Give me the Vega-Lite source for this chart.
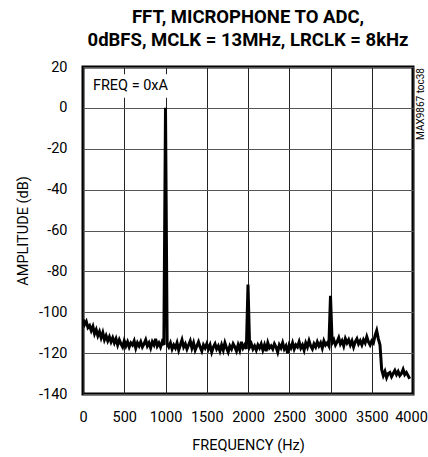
{
  "$schema": "https://vega.github.io/schema/vega-lite/v6.json",
  "width": 330,
  "height": 327,
  "autosize": {"type": "none"},
  "padding": {"left": 83, "top": 67, "right": 15, "bottom": 63},
  "background": "white",
  "title": {
    "text": ["FFT, MICROPHONE TO ADC,", "0dBFS, MCLK = 13MHz, LRCLK = 8kHz"],
    "font": "Roboto",
    "fontSize": 18.5,
    "fontWeight": "bold",
    "color": "black",
    "anchor": "middle",
    "lineHeight": 23,
    "offset": 10
  },
  "config": {
    "view": {"stroke": "black", "strokeWidth": 3},
    "axis": {
      "labelFont": "Roboto",
      "labelFontSize": 14.5,
      "labelColor": "black",
      "titleFont": "Roboto",
      "titleFontSize": 14.5,
      "titleFontWeight": "normal",
      "titleColor": "black",
      "ticks": false,
      "domain": false,
      "grid": true,
      "gridWidth": 1,
      "labelFlush": false,
      "labelOverlap": false,
      "labelExpr": "'' + datum.value"
    }
  },
  "data": {
    "values": [
      {"f":0,"a":-103.5},{"f":20,"a":-106},{"f":40,"a":-104.5},{"f":60,"a":-107.5},{"f":80,"a":-106.5},
      {"f":100,"a":-109},{"f":120,"a":-107},{"f":140,"a":-110.5},{"f":160,"a":-108.5},{"f":180,"a":-111.5},
      {"f":200,"a":-109.5},{"f":220,"a":-112.5},{"f":240,"a":-110},{"f":260,"a":-113.5},{"f":280,"a":-111.5},
      {"f":300,"a":-114},{"f":320,"a":-112},{"f":340,"a":-114.5},{"f":360,"a":-112.5},{"f":380,"a":-115},
      {"f":400,"a":-113},{"f":420,"a":-116},{"f":440,"a":-113.5},{"f":460,"a":-115.5},{"f":480,"a":-117},
      {"f":500,"a":-114},{"f":520,"a":-116.5},{"f":540,"a":-114.5},{"f":560,"a":-117},{"f":580,"a":-115},
      {"f":600,"a":-116},{"f":620,"a":-114},{"f":640,"a":-117.5},{"f":660,"a":-115},{"f":680,"a":-116.5},
      {"f":700,"a":-114.5},{"f":720,"a":-117},{"f":740,"a":-115.5},{"f":760,"a":-113.5},{"f":780,"a":-116.5},
      {"f":800,"a":-115},{"f":820,"a":-117.5},{"f":840,"a":-114.5},{"f":860,"a":-116},{"f":880,"a":-113},
      {"f":900,"a":-116.5},{"f":920,"a":-115},{"f":940,"a":-117},{"f":960,"a":-114.5},{"f":980,"a":-116},
      {"f":1000,"a":0},{"f":1020,"a":-115.5},{"f":1040,"a":-117},{"f":1060,"a":-115},{"f":1080,"a":-118},
      {"f":1100,"a":-116},{"f":1120,"a":-117.5},{"f":1140,"a":-115},{"f":1160,"a":-118.5},{"f":1180,"a":-116},
      {"f":1200,"a":-113.5},{"f":1220,"a":-117},{"f":1240,"a":-115.5},{"f":1260,"a":-118},{"f":1280,"a":-116},
      {"f":1300,"a":-114},{"f":1320,"a":-117.5},{"f":1340,"a":-115},{"f":1360,"a":-118.5},{"f":1380,"a":-116.5},
      {"f":1400,"a":-114.5},{"f":1420,"a":-117},{"f":1440,"a":-119},{"f":1460,"a":-116},{"f":1480,"a":-117.5},
      {"f":1500,"a":-115.5},{"f":1520,"a":-118},{"f":1540,"a":-116},{"f":1560,"a":-119.5},{"f":1580,"a":-117},
      {"f":1600,"a":-115.5},{"f":1620,"a":-118},{"f":1640,"a":-116.5},{"f":1660,"a":-119},{"f":1680,"a":-116},
      {"f":1700,"a":-118.5},{"f":1720,"a":-115},{"f":1740,"a":-117.5},{"f":1760,"a":-119.5},{"f":1780,"a":-116.5},
      {"f":1800,"a":-118},{"f":1820,"a":-115.5},{"f":1840,"a":-117},{"f":1860,"a":-119},{"f":1880,"a":-116},
      {"f":1900,"a":-118.5},{"f":1920,"a":-114.5},{"f":1940,"a":-117.5},{"f":1960,"a":-116},{"f":1980,"a":-118},
      {"f":2000,"a":-86.5},{"f":2020,"a":-117},{"f":2040,"a":-115.5},{"f":2060,"a":-118},{"f":2080,"a":-116.5},
      {"f":2100,"a":-118.5},{"f":2120,"a":-116},{"f":2140,"a":-117.5},{"f":2160,"a":-115.5},{"f":2180,"a":-118.5},
      {"f":2200,"a":-116},{"f":2220,"a":-119},{"f":2240,"a":-115},{"f":2260,"a":-117.5},{"f":2280,"a":-116.5},
      {"f":2300,"a":-118},{"f":2320,"a":-115.5},{"f":2340,"a":-117},{"f":2360,"a":-119.5},{"f":2380,"a":-116},
      {"f":2400,"a":-117.5},{"f":2420,"a":-115},{"f":2440,"a":-118},{"f":2460,"a":-116.5},{"f":2480,"a":-120},
      {"f":2500,"a":-116},{"f":2520,"a":-117.5},{"f":2540,"a":-115},{"f":2560,"a":-118},{"f":2580,"a":-116},
      {"f":2600,"a":-117},{"f":2620,"a":-114.5},{"f":2640,"a":-117.5},{"f":2660,"a":-116},{"f":2680,"a":-118.5},
      {"f":2700,"a":-115},{"f":2720,"a":-117},{"f":2740,"a":-114},{"f":2760,"a":-116.5},{"f":2780,"a":-118},
      {"f":2800,"a":-115.5},{"f":2820,"a":-117},{"f":2840,"a":-114.5},{"f":2860,"a":-116.5},{"f":2880,"a":-115},
      {"f":2900,"a":-117.5},{"f":2920,"a":-114},{"f":2940,"a":-116},{"f":2960,"a":-115},{"f":2980,"a":-116.5},
      {"f":3000,"a":-92},{"f":3020,"a":-115},{"f":3040,"a":-113.5},{"f":3060,"a":-116},{"f":3080,"a":-114.5},
      {"f":3100,"a":-112.5},{"f":3120,"a":-115.5},{"f":3140,"a":-114},{"f":3160,"a":-116.5},{"f":3180,"a":-113},
      {"f":3200,"a":-115},{"f":3220,"a":-113.5},{"f":3240,"a":-116},{"f":3260,"a":-114},{"f":3280,"a":-117},
      {"f":3300,"a":-114.5},{"f":3320,"a":-113},{"f":3340,"a":-115.5},{"f":3360,"a":-114},{"f":3380,"a":-116},
      {"f":3400,"a":-113.5},{"f":3420,"a":-115},{"f":3440,"a":-112},{"f":3460,"a":-114.5},{"f":3480,"a":-116},
      {"f":3500,"a":-114},{"f":3520,"a":-115},{"f":3540,"a":-111.5},{"f":3560,"a":-109},{"f":3580,"a":-113},
      {"f":3600,"a":-116},{"f":3620,"a":-128},{"f":3640,"a":-131},{"f":3660,"a":-129},{"f":3680,"a":-132},
      {"f":3700,"a":-130},{"f":3720,"a":-129.5},{"f":3740,"a":-131.5},{"f":3760,"a":-130},{"f":3780,"a":-128.5},
      {"f":3800,"a":-130.5},{"f":3820,"a":-129},{"f":3840,"a":-131},{"f":3860,"a":-130},{"f":3880,"a":-128},
      {"f":3900,"a":-130.5},{"f":3920,"a":-129.5},{"f":3940,"a":-131},{"f":3960,"a":-132.5}
    ]
  },
  "layer": [
    {
      "mark": {"type": "line", "color": "black", "strokeWidth": 3, "clip": true},
      "encoding": {
        "x": {
          "field": "f", "type": "quantitative",
          "scale": {"domain": [0, 4000], "nice": false, "zero": false},
          "axis": {
            "values": [0, 500, 1000, 1500, 2000, 2500, 3000, 3500, 4000],
            "title": "FREQUENCY (Hz)",
            "gridColor": "#222",
            "labelPadding": 16,
            "labelOffset": {"condition": {"test": "datum.value == 4000", "value": -2}, "value": 0},
            "titlePadding": 15
          }
        },
        "y": {
          "field": "a", "type": "quantitative",
          "scale": {"domain": [-140, 20], "nice": false, "zero": false},
          "axis": {
            "values": [-140, -120, -100, -80, -60, -40, -20, 0, 20],
            "title": "AMPLITUDE (dB)",
            "gridColor": "#555",
            "labelPadding": 16,
            "titlePadding": 8
          }
        }
      }
    },
    {
      "data": {"values": [{}]},
      "mark": {"type": "rect", "fill": "white"},
      "encoding": {
        "x": {"datum": 60, "type": "quantitative"},
        "x2": {"datum": 1200},
        "y": {"datum": 16.5, "type": "quantitative"},
        "y2": {"datum": 5}
      }
    },
    {
      "data": {"values": [{}]},
      "mark": {"type": "text", "text": "FREQ = 0xA", "font": "Roboto", "fontSize": 14.5, "color": "black", "align": "left", "baseline": "middle"},
      "encoding": {
        "x": {"datum": 120, "type": "quantitative"},
        "y": {"datum": 10.7, "type": "quantitative"}
      }
    },
    {
      "data": {"values": [{}]},
      "mark": {"type": "text", "text": "MAX9867 toc38", "font": "Roboto", "fontSize": 10, "color": "black", "align": "right", "baseline": "top", "angle": 270, "dy": 3, "dx": -1},
      "encoding": {
        "x": {"datum": 4000, "type": "quantitative"},
        "y": {"datum": 20, "type": "quantitative"}
      }
    }
  ]
}
